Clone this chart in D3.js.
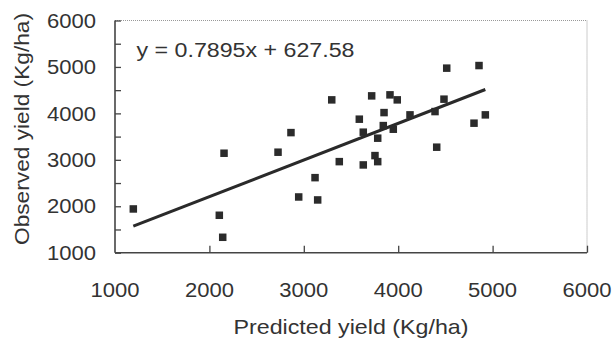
<html>
<head></head>
<body style="margin:0;background:#fff">

<svg id="svg" width="616" height="338"></svg>
<script src="https://d3js.org/d3.v7.min.js"></script>
<script>

// predicted (x) vs observed (y) yield, Kg/ha
var predicted = [1194, 2105, 2141, 2155, 2727, 2864, 2946, 3119, 3147, 3296, 3376,
                 3588, 3630, 3630, 3719, 3754, 3783, 3783, 3842, 3850, 3913, 3948,
                 3990, 4125, 4390, 4408, 4485, 4514, 4803, 4856, 4923];
var observed  = [1942, 1806, 1332, 3142, 3164, 3586, 2200, 2616, 2136, 4291, 2961,
                 3875, 3595, 2890, 4377, 3091, 3466, 2961, 3737, 4017, 4399, 3659,
                 4291, 3968, 4039, 3272, 4306, 4974, 3789, 5030, 3968];
var slope = 0.7895, intercept = 627.58;
var xTicks = [1000, 2000, 3000, 4000, 5000, 6000];
var yTicks = [1000, 2000, 3000, 4000, 5000, 6000];
var yMinor = [1500, 2500, 3500, 4500, 5500];

var L = 115, R = 587, T = 20.5, B = 252.7;
var font = "Arial, 'Liberation Sans', Helvetica, sans-serif";
var ink = "#333";

var svg = d3.select("#svg");
var x = d3.scaleLinear().domain([1000, 6000]).range([L, R]);
var y = d3.scaleLinear().domain([1000, 6000]).range([B, T]);

// dotted top/right frame
svg.append("path")
  .attr("d", "M" + L + "," + T + "H" + R + "V" + B)
  .style("fill", "none").style("stroke", "#999").style("stroke-dasharray", "1,1");

// y axis: ticks every 500 pointing inward
svg.append("g").attr("transform", "translate(" + L + ",0)")
  .call(d3.axisRight(y).tickValues(yTicks.concat(yMinor)).tickSize(6).tickFormat(""))
  .call(g => g.select(".domain").remove())
  .call(g => g.selectAll("line").style("stroke", "#444").style("stroke-width", 1.3));
svg.append("line").attr("x1", L).attr("x2", L).attr("y1", T).attr("y2", B)
  .style("stroke", "#444").style("stroke-width", 1.6);

// x axis: ticks pointing upward
svg.append("g").attr("transform", "translate(0," + B + ")")
  .call(d3.axisTop(x).tickValues(xTicks.slice(1)).tickSize(7).tickFormat(""))
  .call(g => g.select(".domain").remove())
  .call(g => g.selectAll("line").style("stroke", "#444").style("stroke-width", 1.3));
svg.append("line").attr("x1", L).attr("x2", R).attr("y1", B).attr("y2", B)
  .style("stroke", "#444").style("stroke-width", 1.6);

// tick labels
svg.selectAll("text.xl").data(xTicks).join("text").classed("xl", true)
  .attr("x", d => x(d)).attr("y", 296.5)
  .attr("text-anchor", "middle")
  .attr("textLength", 49).attr("lengthAdjust", "spacingAndGlyphs")
  .style("font-family", font).style("font-size", "20px").style("fill", ink)
  .text(d => d);

svg.selectAll("text.yl").data(yTicks).join("text").classed("yl", true)
  .attr("x", 96).attr("y", d => y(d)).attr("dy", "0.36em")
  .attr("text-anchor", "end")
  .attr("textLength", 49).attr("lengthAdjust", "spacingAndGlyphs")
  .style("font-family", font).style("font-size", "20px").style("fill", ink)
  .text(d => d);

// axis titles
svg.append("text")
  .attr("x", 351).attr("y", 334).attr("text-anchor", "middle")
  .attr("textLength", 235).attr("lengthAdjust", "spacingAndGlyphs")
  .style("font-family", font).style("font-size", "21px").style("fill", ink)
  .text("Predicted yield (Kg/ha)");

svg.append("text")
  .attr("transform", "translate(29,129) rotate(-90)").attr("text-anchor", "middle")
  .attr("textLength", 232).attr("lengthAdjust", "spacingAndGlyphs")
  .style("font-family", font).style("font-size", "21px").style("fill", ink)
  .text("Observed yield (Kg/ha)");

// regression line over the data range
var x0 = d3.min(predicted), x1 = d3.max(predicted);
svg.append("line")
  .attr("x1", x(x0)).attr("y1", y(slope * x0 + intercept))
  .attr("x2", x(x1)).attr("y2", y(slope * x1 + intercept))
  .style("stroke", "#2a2a2a").style("stroke-width", 3);

// points
var sz = 7.5;
svg.selectAll("rect.pt").data(predicted).join("rect").classed("pt", true)
  .attr("x", (d, i) => x(d) - sz / 2)
  .attr("y", (d, i) => y(observed[i]) - sz / 2)
  .attr("width", sz).attr("height", sz)
  .style("fill", "#2b2b2b");

// equation
svg.append("text")
  .attr("x", 136.5).attr("y", 57.3)
  .attr("textLength", 218).attr("lengthAdjust", "spacingAndGlyphs")
  .style("font-family", font).style("font-size", "20px").style("fill", ink)
  .text("y = " + slope + "x + " + intercept);

</script>
</body>
</html>
